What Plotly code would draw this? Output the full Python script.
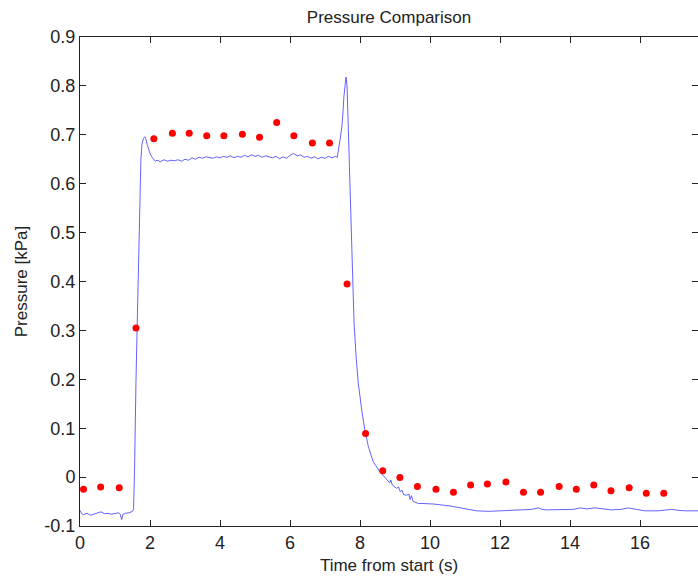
import plotly.graph_objects as go

t_line = [0.0, 0.05, 0.1, 0.2, 0.3, 0.4, 0.5, 0.6, 0.7, 0.8, 0.9, 1.0, 1.1, 1.15, 1.19, 1.23, 1.3, 1.4, 1.47, 1.5,
          1.53, 1.56, 1.60, 1.64, 1.68, 1.71, 1.74, 1.77, 1.81, 1.85, 1.88, 1.92, 1.96, 2.0, 2.05, 2.1, 2.15,
          2.2, 2.3, 2.4, 2.5, 2.6, 2.7, 2.8, 2.9, 3.0, 3.1, 3.2, 3.3, 3.4, 3.5, 3.6, 3.7, 3.8, 3.9, 4.0, 4.1,
          4.2, 4.3, 4.4, 4.5, 4.6, 4.7, 4.8, 4.9, 5.0, 5.1, 5.2, 5.3, 5.4, 5.5, 5.6, 5.7, 5.8, 5.9, 6.0, 6.1,
          6.2, 6.3, 6.4, 6.5, 6.6, 6.7, 6.8, 6.9, 7.0, 7.1, 7.2, 7.3, 7.35,
          7.4, 7.43, 7.47, 7.5, 7.54, 7.57, 7.6, 7.63, 7.66, 7.69, 7.72, 7.76, 7.79, 7.83, 7.89, 7.95, 8.05,
          8.14, 8.24, 8.38, 8.57, 8.7, 8.81, 8.85, 8.88, 8.92, 9.05, 9.1, 9.15, 9.2, 9.25, 9.33, 9.4, 9.43,
          9.47, 9.52, 9.6, 9.67, 9.8, 10.1, 10.57, 10.8, 11.05, 11.2, 11.33, 11.7, 12.0, 12.3, 12.57, 12.9,
          13.1, 13.2, 13.33, 13.6, 13.86, 14.1, 14.29, 14.48, 14.71, 14.9, 15.19, 15.45, 15.67, 15.9, 16.14,
          16.52, 16.7, 16.9, 17.1, 17.29, 17.66]
p_line = [-0.068, -0.075, -0.077, -0.074, -0.078, -0.076, -0.073, -0.071, -0.075, -0.074, -0.076, -0.074,
          -0.073, -0.076, -0.087, -0.076, -0.074, -0.073, -0.071, -0.070,
          -0.065, 0.02, 0.20, 0.33, 0.48, 0.59, 0.65, 0.68, 0.692, 0.696, 0.692, 0.680, 0.668, 0.662, 0.655,
          0.649, 0.646,
          0.648, 0.645, 0.649, 0.646, 0.648, 0.647, 0.649, 0.646, 0.650, 0.648, 0.653, 0.650, 0.654, 0.652,
          0.655, 0.653, 0.652, 0.655, 0.653, 0.656, 0.654, 0.657, 0.653, 0.656, 0.654, 0.658, 0.655, 0.659,
          0.656, 0.658, 0.654, 0.657, 0.655, 0.653, 0.656, 0.651, 0.655, 0.652, 0.658, 0.662, 0.657, 0.659,
          0.654, 0.656, 0.652, 0.655, 0.651, 0.654, 0.652, 0.656, 0.653, 0.656, 0.654,
          0.672, 0.690, 0.710, 0.730, 0.778, 0.805, 0.818, 0.800, 0.730, 0.640, 0.560, 0.450, 0.382, 0.315,
          0.246, 0.192, 0.137, 0.096, 0.062, 0.031, 0.011, 0.0, -0.010, -0.012, -0.006, -0.016, -0.023,
          -0.020, -0.030, -0.027, -0.036, -0.037, -0.035, -0.046, -0.038, -0.050, -0.052, -0.054, -0.054,
          -0.055, -0.059, -0.062, -0.064, -0.066, -0.069, -0.070, -0.069, -0.068, -0.067, -0.066, -0.063,
          -0.066, -0.067, -0.067, -0.067, -0.066, -0.063, -0.065, -0.063, -0.065, -0.067, -0.066, -0.063,
          -0.066, -0.069, -0.069, -0.068, -0.066, -0.068, -0.069, -0.069]

# Comparison points (red dots)
t_dots = [0.10, 0.59, 1.12, 1.60, 2.11, 2.64, 3.12, 3.62, 4.11, 4.64, 5.13, 5.62, 6.11, 6.64, 7.13, 7.63,
          8.16, 8.65, 9.14, 9.64, 10.17, 10.67, 11.16, 11.64, 12.17, 12.67, 13.16, 13.69, 14.18, 14.68,
          15.17, 15.69, 16.18, 16.68]
p_dots = [-0.025, -0.020, -0.022, 0.305, 0.692, 0.703, 0.703, 0.698, 0.698, 0.701, 0.695, 0.725, 0.698,
          0.683, 0.683, 0.395, 0.089, 0.013, -0.001, -0.019, -0.025, -0.031, -0.016, -0.014, -0.010, -0.031,
          -0.031, -0.019, -0.025, -0.016, -0.028, -0.022, -0.033, -0.033]

x_ticks = [0, 2, 4, 6, 8, 10, 12, 14, 16]
y_ticks = [-0.1, 0, 0.1, 0.2, 0.3, 0.4, 0.5, 0.6, 0.7, 0.8, 0.9]
y_tick_text = ["-0.1", "0", "0.1", "0.2", "0.3", "0.4", "0.5", "0.6", "0.7", "0.8", "0.9"]

FONT = "Liberation Sans, Arial, Helvetica, sans-serif"

fig = go.Figure()
fig.add_trace(go.Scatter(x=t_line, y=p_line, mode="lines",
                         line=dict(color="rgb(80,80,255)", width=0.9), showlegend=False))
fig.add_trace(go.Scatter(x=t_dots, y=p_dots, mode="markers",
                         marker=dict(color="rgb(255,0,0)", size=7, line=dict(width=0)), showlegend=False))

axis_common = dict(showline=True, linecolor="#222", linewidth=1, mirror="ticks", ticks="inside",
                   ticklen=6, tickcolor="#222", showgrid=False, zeroline=False,
                   tickfont=dict(family=FONT, size=18, color="#222"))

fig.update_layout(
    width=698, height=579,
    margin=dict(l=80, r=0, t=37, b=53),
    paper_bgcolor="white", plot_bgcolor="white",
    title=dict(text="Pressure Comparison", x=0.5, xref="paper", xanchor="center",
               y=1 - 17 / 579, yref="container", yanchor="middle",
               font=dict(family=FONT, size=17, color="#222")),
    xaxis=dict(range=[0, 17.657], tickvals=x_ticks, ticktext=[str(v) for v in x_ticks],
               title=dict(text="Time from start (s)", font=dict(family=FONT, size=17, color="#222"),
                          standoff=7),
               **axis_common),
    yaxis=dict(range=[-0.1, 0.9], tickvals=y_ticks, ticktext=y_tick_text,
               title=dict(text="Pressure [kPa]", font=dict(family=FONT, size=17, color="#222"),
                          standoff=12),
               **axis_common),
)

fig.write_html("out.html")
